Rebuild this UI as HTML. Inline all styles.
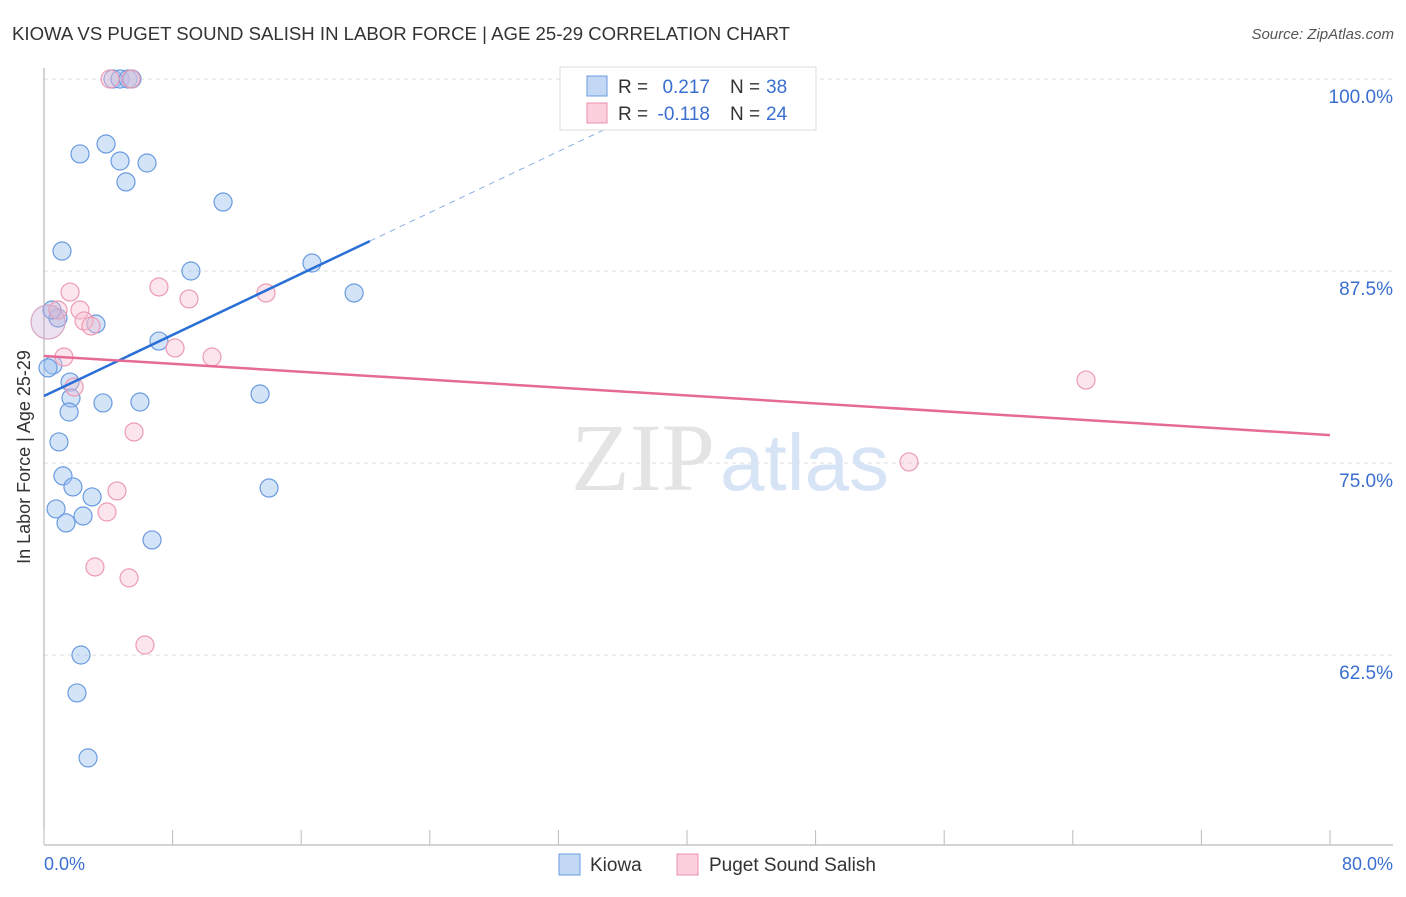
<!DOCTYPE html>
<html><head><meta charset="utf-8"><style>
body{margin:0;background:#fff;font-family:"Liberation Sans",sans-serif}
</style></head><body>
<svg width="1406" height="892" xmlns="http://www.w3.org/2000/svg">
<text x="12" y="40" font-size="18.6" fill="#333">KIOWA VS PUGET SOUND SALISH IN LABOR FORCE | AGE 25-29 CORRELATION CHART</text>
<text x="1394" y="39" font-size="15" fill="#555" font-style="italic" text-anchor="end">Source: ZipAtlas.com</text>
<g id="grid"></g>
<text x="715" y="490" font-size="96" font-family="Liberation Serif" fill="#e4e4e4" text-anchor="end">ZIP</text>
<text x="720" y="490" font-size="80" fill="#d6e4f6">atlas</text>
<line x1="44" y1="68" x2="44" y2="845" stroke="#aaa"/>
<line x1="44" y1="845" x2="1393" y2="845" stroke="#aaa"/>
<g id="ticks"></g>
<text x="30" y="457" font-size="18" fill="#333" text-anchor="middle" transform="rotate(-90 30 457)">In Labor Force | Age 25-29</text>
<text x="44" y="870" font-size="18" fill="#3a6fd0">0.0%</text>
<text x="1393" y="870" font-size="18" fill="#3a6fd0" text-anchor="end">80.0%</text>
<g id="pts"></g>
<g id="lines"></g>
<g>
<rect x="560" y="67" width="256" height="63" fill="#fff" stroke="#ddd"/>
<rect x="587" y="76" width="20" height="20" fill="#c3d8f5" stroke="#6a9be0"/>
<rect x="587" y="103" width="20" height="20" fill="#fbd0dc" stroke="#ec8fae"/>
<text x="618" y="93" font-size="19" fill="#333">R =</text>
<text x="710" y="93" font-size="19" fill="#3a6fd0" text-anchor="end">0.217</text>
<text x="730" y="93" font-size="19" fill="#333">N =</text>
<text x="766" y="93" font-size="19" fill="#3a6fd0">38</text>
<text x="618" y="120" font-size="19" fill="#333">R =</text>
<text x="710" y="120" font-size="19" fill="#3a6fd0" text-anchor="end">-0.118</text>
<text x="730" y="120" font-size="19" fill="#333">N =</text>
<text x="766" y="120" font-size="19" fill="#3a6fd0">24</text>
</g>
<g>
<rect x="559" y="854" width="21" height="21" fill="#c3d8f5" stroke="#6a9be0"/>
<text x="590" y="871" font-size="19" fill="#333">Kiowa</text>
<rect x="677" y="854" width="21" height="21" fill="#fbd0dc" stroke="#ec8fae"/>
<text x="709" y="871" font-size="19" fill="#333">Puget Sound Salish</text>
</g>
</svg>
<script>
const yTicks=[100,87.5,75,62.5];
const yTickLabels=["100.0%","87.5%","75.0%","62.5%"];
const xTicks=[0,8,16,24,32,40,48,56,64,72,80];
const kiowaX=[4.29,4.73,5.23,5.47,2.24,3.86,4.73,6.41,5.10,11.14,1.12,9.14,16.67,19.29,3.23,0.87,0.50,7.15,0.56,0.25,1.62,1.68,1.56,3.67,5.97,13.44,0.93,1.18,1.80,2.99,0.75,2.43,1.37,6.72,14.00,2.30,2.05,2.74];
const kiowaY=[100,100,100,100,95.12,95.77,94.66,94.53,93.30,91.99,88.80,87.50,88.02,86.07,84.05,84.44,84.96,82.94,81.38,81.19,80.27,79.23,78.32,78.91,78.97,79.49,76.37,74.16,73.44,72.79,72.01,71.55,71.10,69.99,73.37,62.50,60.03,55.80];
const pugetX=[4.11,5.41,1.62,0.87,2.24,2.49,2.92,7.15,9.02,13.81,8.15,10.45,1.24,1.87,5.60,4.54,3.92,3.17,5.29,6.28,53.81,64.82,0.25];
const pugetY=[100,100,86.13,84.96,84.96,84.25,83.92,86.46,85.68,86.07,82.49,81.90,81.90,79.95,77.02,73.18,71.81,68.23,67.52,63.15,75.07,80.40,84.18];
const kiowaTrend=[79.36,0.4976];
const pugetTrend=[81.97,-0.0644];
const X=v=>44+v/80*1286;
const Y=v=>79+(100-v)/12.5*192;
const NS="http://www.w3.org/2000/svg";
function mk(parent,tag,attrs){const e=document.createElementNS(NS,tag);for(const k in attrs)e.setAttribute(k,attrs[k]);document.getElementById(parent).appendChild(e);return e;}
yTicks.forEach((t,i)=>{
 const l=mk('grid','line',{x1:44,x2:1393,y1:Y(t),y2:Y(t),stroke:'#ddd','stroke-dasharray':'4,4'});
 
 
 const tx=mk('grid','text',{x:1393,y:Y(t)+24,'font-size':19,fill:'#3a6fd0','text-anchor':'end'});
 tx.textContent=yTickLabels[i];
 
 
});
xTicks.forEach(t=>{
 const l=mk('ticks','line',{x1:X(t),x2:X(t),y1:830,y2:845,stroke:'#bbb'});
 
 
});
kiowaX.forEach((x,i)=>{
 const c=mk('pts','circle',{cx:X(x),cy:Y(kiowaY[i]),r:9,fill:'rgba(160,196,240,0.45)',stroke:'#6a9be0','stroke-width':1.2});
 
 
});
pugetX.forEach((x,i)=>{
 const big=i==pugetX.length-1;
 const c=mk('pts','circle',{cx:X(x),cy:Y(pugetY[i]),r:big?17:9,fill:big?'rgba(200,170,210,0.35)':'rgba(248,190,208,0.4)',stroke:big?'#d7a6c6':'#ec9ab5','stroke-width':1.2});
 
 
});
const f=(tr,x)=>tr[0]+tr[1]*x;
let l=mk('lines','line',{x1:X(0),y1:Y(f(kiowaTrend,0)),x2:X(20.27),y2:Y(f(kiowaTrend,20.27)),stroke:'#2a6fd6','stroke-width':2.5});


l=mk('lines','line',{x1:X(20.27),y1:Y(f(kiowaTrend,20.27)),x2:X(36),y2:Y(f(kiowaTrend,36)),stroke:'#8ab0e6','stroke-width':1,'stroke-dasharray':'6,5'});


l=mk('lines','line',{x1:X(0),y1:Y(f(pugetTrend,0)),x2:X(80),y2:Y(f(pugetTrend,80)),stroke:'#e56a96','stroke-width':2.5});


</script>
</body></html>
